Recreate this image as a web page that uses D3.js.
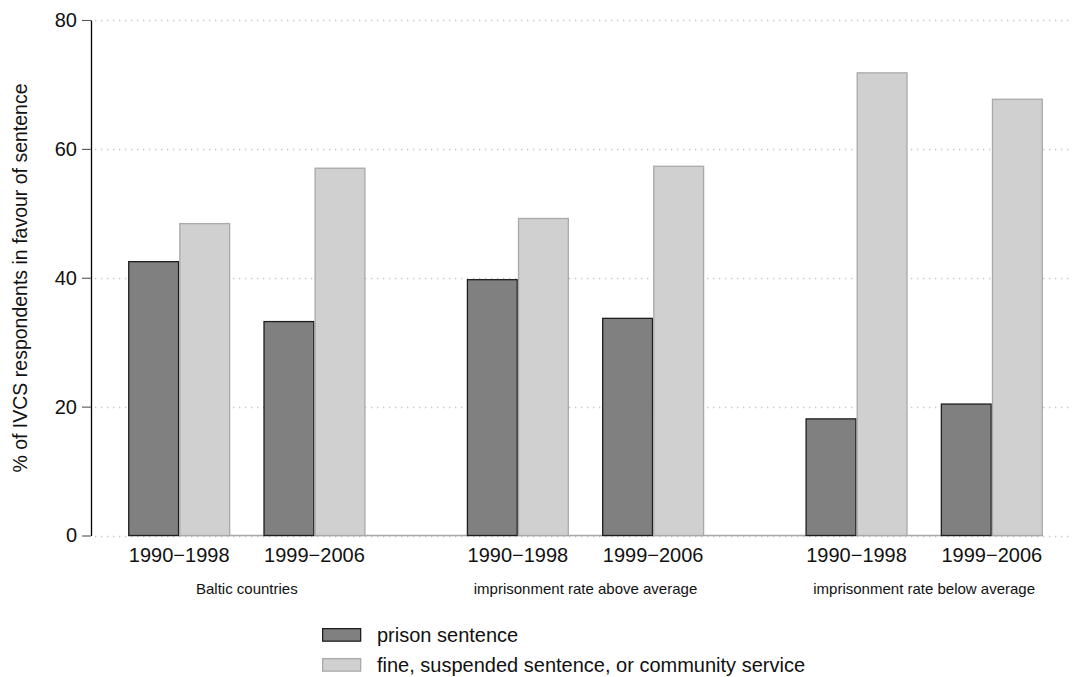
<!DOCTYPE html>
<html>
<head>
<meta charset="utf-8">
<script src="https://cdn.jsdelivr.net/npm/d3@7"></script>
<style>
  html, body { margin: 0; padding: 0; background: #fff; }
  svg { display: block; font-family: "Liberation Sans", Arial, Helvetica, sans-serif; }
</style>
</head>
<body>
<svg id="chart" width="1074" height="677"></svg>
<script>
// Country groups, survey periods and sentence types
const groups = ["Baltic countries", "imprisonment rate above average", "imprisonment rate below average"];
const periods = ["1990\u22121998", "1999\u22122006"];
const seriesNames = ["prison sentence", "fine, suspended sentence, or community service"];

// % of respondents in favour, one value per group × period
const prisonValues = [42.6, 33.3, 39.8, 33.8, 18.2, 20.5];
const fineValues   = [48.5, 57.1, 49.3, 57.4, 71.9, 67.8];

const yTicks = [0, 20, 40, 60, 80];
const yTitle = "% of IVCS respondents in favour of sentence";

const fills   = ["#808080", "#d0d0d0"];
const strokes = ["#1e1e1e", "#a9a9a9"];

// flatten into rows for drawing
const rows = [];
groups.forEach((g, gi) => {
  periods.forEach((p, pi) => {
    const idx = gi * periods.length + pi;
    rows.push({ group: g, period: p, series: 0, value: prisonValues[idx] });
    rows.push({ group: g, period: p, series: 1, value: fineValues[idx] });
  });
});

const svg = d3.select("#chart");

const plotLeft = 91, plotRight = 1071;
const y = d3.scaleLinear().domain([0, 80]).range([535.5, 20]);

const xGroup = d3.scaleBand()
  .domain(groups)
  .range([91, 1080])
  .paddingInner(0.2988)
  .paddingOuter(0.1095);

const xPeriod = d3.scaleBand()
  .domain(periods)
  .range([0, xGroup.bandwidth()])
  .paddingInner(0.2444)
  .paddingOuter(0);

const xSeries = d3.scaleBand()
  .domain([0, 1])
  .range([0, xPeriod.bandwidth()])
  .padding(0);

// dotted horizontal grid
svg.append("g")
  .selectAll("line")
  .data(yTicks)
  .join("line")
  .attr("x1", plotLeft + 4)
  .attr("x2", plotRight)
  .attr("y1", d => Math.round(y(d)) + 0.5)
  .attr("y2", d => Math.round(y(d)) + 0.5)
  .attr("stroke", "#c4c4c4")
  .attr("stroke-width", 1.3)
  .attr("stroke-dasharray", "1.3 4.7");

// solid baseline under the bars
const firstLeft = xGroup(groups[0]) + xPeriod(periods[0]);
const lastRight = xGroup(groups[groups.length - 1]) + xPeriod(periods[periods.length - 1]) + xPeriod.bandwidth();
svg.append("line")
  .attr("x1", firstLeft).attr("x2", lastRight)
  .attr("y1", y(0)).attr("y2", y(0))
  .attr("stroke", "#a9a9a9")
  .attr("stroke-width", 1.3);

// bars
svg.append("g")
  .selectAll("rect")
  .data(rows)
  .join("rect")
  .attr("x", d => xGroup(d.group) + xPeriod(d.period) + xSeries(d.series) + 0.65)
  .attr("y", d => y(d.value) + 0.65)
  .attr("width", xSeries.bandwidth() - 1.3)
  .attr("height", d => y(0) - y(d.value) - 0.65)
  .attr("fill", d => fills[d.series])
  .attr("stroke", d => strokes[d.series])
  .attr("stroke-width", 1.3);

// y axis
const yAxis = d3.axisLeft(y)
  .tickValues(yTicks)
  .tickSize(9)
  .tickSizeOuter(0)
  .tickPadding(5)
  .tickFormat(d3.format("d"));

const yg = svg.append("g")
  .attr("transform", `translate(${plotLeft},0)`)
  .call(yAxis);
yg.select(".domain").attr("stroke", "#000").attr("stroke-width", 1.3);
yg.selectAll(".tick line").attr("stroke", "#555").attr("stroke-width", 1.1);
yg.selectAll(".tick text")
  .attr("font-size", 20)
  .attr("font-family", "Liberation Sans, Arial, sans-serif")
  .attr("fill", "#111");

// y title
svg.append("text")
  .attr("transform", `translate(27,278) rotate(-90)`)
  .attr("text-anchor", "middle")
  .attr("font-size", 19.5)
  .attr("fill", "#111")
  .text(yTitle);

// period labels
const periodLabels = [];
groups.forEach(g => periods.forEach(p => periodLabels.push({ g, p })));
svg.append("g")
  .selectAll("text")
  .data(periodLabels)
  .join("text")
  .attr("x", d => xGroup(d.g) + xPeriod(d.p) + xPeriod.bandwidth() / 2)
  .attr("y", 562)
  .attr("text-anchor", "middle")
  .attr("font-size", 20)
  .attr("fill", "#111")
  .text(d => d.p);

// group labels
svg.append("g")
  .selectAll("text")
  .data(groups)
  .join("text")
  .attr("x", d => xGroup(d) + xGroup.bandwidth() / 2)
  .attr("y", 594)
  .attr("text-anchor", "middle")
  .attr("font-size", 15)
  .attr("fill", "#111")
  .text(d => d);

// legend
const legend = svg.append("g").attr("transform", "translate(322,628)");
const item = legend.selectAll("g")
  .data(seriesNames)
  .join("g")
  .attr("transform", (d, i) => `translate(0,${i * 30})`);
item.append("rect")
  .attr("x", 0.65).attr("y", 0.65)
  .attr("width", 38).attr("height", 12.5)
  .attr("fill", (d, i) => fills[i])
  .attr("stroke", (d, i) => strokes[i])
  .attr("stroke-width", 1.3);
item.append("text")
  .attr("x", 55)
  .attr("y", 14)
  .attr("font-size", 20)
  .attr("fill", "#111")
  .text(d => d);
</script>
</body>
</html>
